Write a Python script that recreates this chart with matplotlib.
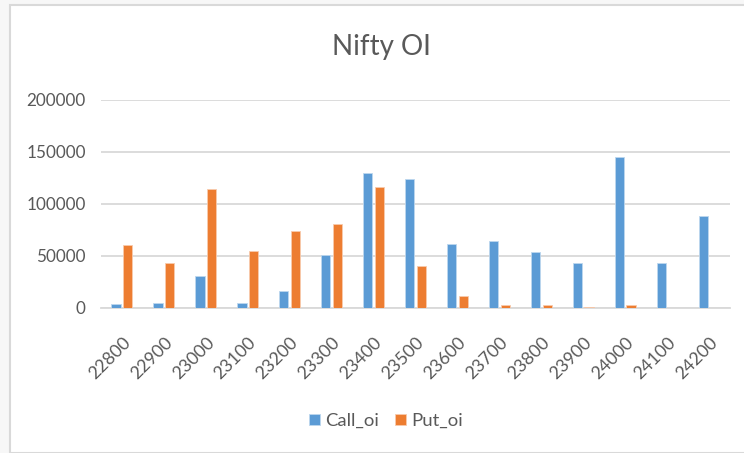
import matplotlib
matplotlib.use("Agg")
import matplotlib.pyplot as plt
import numpy as np
from matplotlib.patches import Rectangle

strikes = ["22800", "22900", "23000", "23100", "23200", "23300", "23400", "23500",
           "23600", "23700", "23800", "23900", "24000", "24100", "24200"]
call_oi = [4000, 5000, 31000, 5000, 16300, 51000, 130000, 124000,
           62000, 64700, 54100, 42900, 145000, 43500, 88000]
put_oi = [61000, 43000, 114500, 54800, 74300, 80800, 116300, 40400,
          11800, 2900, 2500, 500, 2900, 0, 0]
y_ticks = [0, 50000, 100000, 150000, 200000]

plt.rcParams['font.family'] = ['Lato', 'DejaVu Sans']
W, H = 744, 453
fig = plt.figure(figsize=(W / 100, H / 100), dpi=100, facecolor="#F7F7F7")

# chart frame
fig.patches.append(Rectangle((10 / W, 0), 1 - 10 / W + 0.01, 1 - 5 / H,
                             transform=fig.transFigure, facecolor="white",
                             edgecolor="#D9D9D9", linewidth=1.5, zorder=-5))

ax = fig.add_axes([101 / W, 1 - 308 / H, (730 - 101) / W, (308 - 100) / H])
ax.set_zorder(2)
ax.set_facecolor("none")

x = np.arange(len(strikes))
bw = 0.22
off = 0.14
ax.bar(x - off, call_oi, bw, color="#5B9BD5", edgecolor="#BDD7EE", linewidth=0.6,
       label="Call_oi", zorder=3)
ax.bar(x + off, put_oi, bw, color="#ED7D31", edgecolor="#F8CBAD", linewidth=0.6,
       label="Put_oi", zorder=3)

ax.set_xlim(-0.5, len(strikes) - 0.5)
ax.set_ylim(0, 200000)
ax.set_yticks(y_ticks)
ax.set_yticklabels([str(v) for v in y_ticks])
ax.yaxis.grid(True, color="#D9D9D9", linewidth=1.3, zorder=0)
ax.set_axisbelow(True)
for s in ["top", "right", "left"]:
    ax.spines[s].set_visible(False)
ax.spines["bottom"].set_color("#D9D9D9")
ax.spines["bottom"].set_linewidth(1.3)
ax.tick_params(axis="y", length=0, pad=11, labelsize=12.3, labelcolor="#595959")
ax.tick_params(axis="x", length=0, pad=19, labelsize=12.8, labelcolor="#595959")
ax.set_xticks(x)
ax.set_xticklabels(strikes, rotation=45, ha="right", va="top", rotation_mode="anchor")

fig.text(381 / W, 1 - 47 / H, "Nifty OI", ha="center", va="center",
         fontsize=20, color="#595959")

handles, labels = ax.get_legend_handles_labels()
leg = fig.legend(handles, labels, loc="center", bbox_to_anchor=(386 / W, 1 - 421 / H),
                 ncol=2, frameon=False, fontsize=13.3, handlelength=0.6, handleheight=0.6,
                 handletextpad=0.3, columnspacing=0.85)
leg.set_zorder(3)
for t in leg.get_texts():
    t.set_color("#595959")

fig.savefig("out.png", dpi=100, facecolor=fig.get_facecolor())
